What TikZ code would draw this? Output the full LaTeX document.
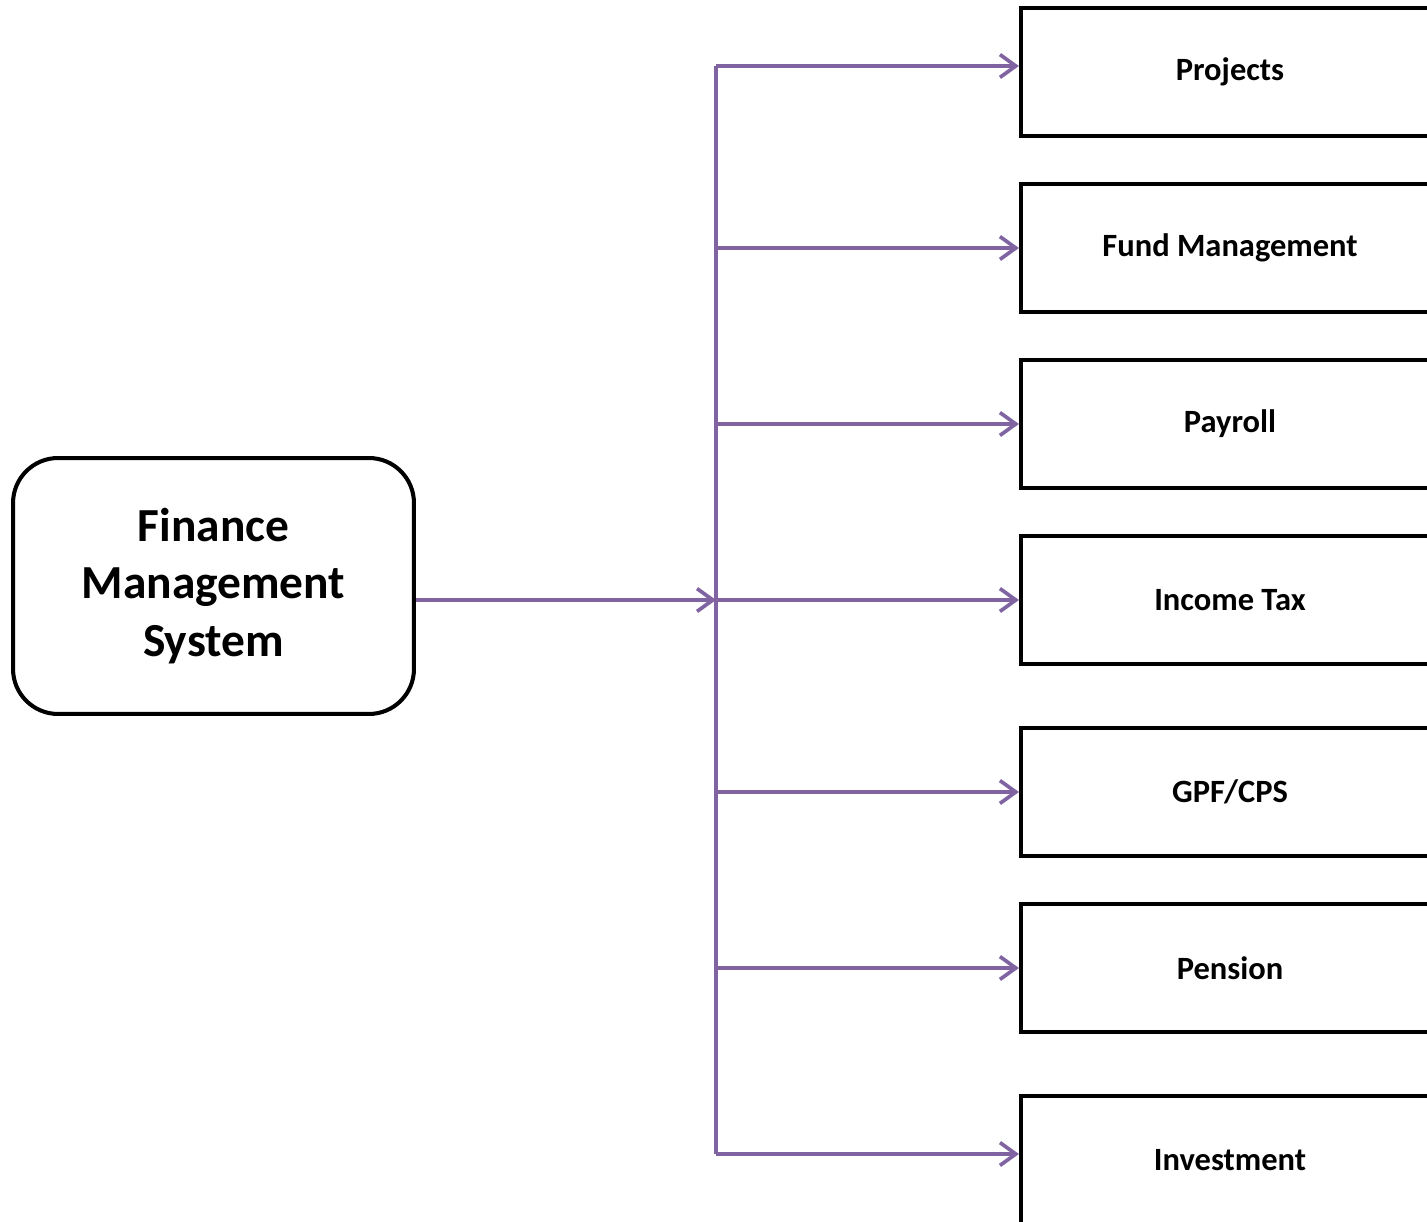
\documentclass[tikz,border=0pt]{standalone}
\usepackage{fontspec}
\setmainfont{Carlito}
\usepackage{xcolor}
\usetikzlibrary{arrows.meta, positioning}
\definecolor{linkpurple}{HTML}{8064A2}
\tikzstyle{mainbox} = [rectangle, rounded corners=0.9cm, draw=black, line width=2.3pt, minimum width=8.02cm, minimum height=5.12cm, align=center, font=\fontsize{27}{32.7}\selectfont\bfseries]
\tikzstyle{module} = [rectangle, draw=black, line width=2.4pt, minimum width=8.36cm, minimum height=2.56cm, align=center, font=\fontsize{18.5}{22}\selectfont\bfseries]
\tikzstyle{link} = [draw=linkpurple, line width=2.1pt]
\tikzstyle{arrow} = [link, -{Straight Barb[length=9pt, width=13pt, line width=2.1pt]}]

\begin{document}
\begin{tikzpicture}[x=0.02cm, y=-0.02cm]
\useasboundingbox (0,0) rectangle (1427,1222);
\node[mainbox] (fms) at (213.5,586) {Finance\\Management\\System};

\node[module] (projects) at (1230,72) {Projects};
\node[module] (fund) at (1230,248) {Fund Management};
\node[module] (payroll) at (1230,424) {Payroll};
\node[module] (incometax) at (1230,600) {Income Tax};
\node[module] (gpf) at (1230,792) {GPF/CPS};
\node[module] (pension) at (1230,968) {Pension};
\node[module] (investment) at (1230,1160) {Investment};

\coordinate (split) at (716,600);
\draw[arrow] (fms.east |- split) -- (split);
\draw[link] ([yshift=0.12cm]split |- projects.west) -- ([yshift=0.12cm]split |- investment.west);

\draw[arrow] ([yshift=0.12cm]split |- projects.west) -- ([yshift=0.12cm]projects.west);
\draw[arrow] (split |- fund.west) -- (fund.west);
\draw[arrow] (split |- payroll.west) -- (payroll.west);
\draw[arrow] (split) -- (incometax.west);
\draw[arrow] (split |- gpf.west) -- (gpf.west);
\draw[arrow] (split |- pension.west) -- (pension.west);
\draw[arrow] ([yshift=0.12cm]split |- investment.west) -- ([yshift=0.12cm]investment.west);
\end{tikzpicture}
\end{document}
